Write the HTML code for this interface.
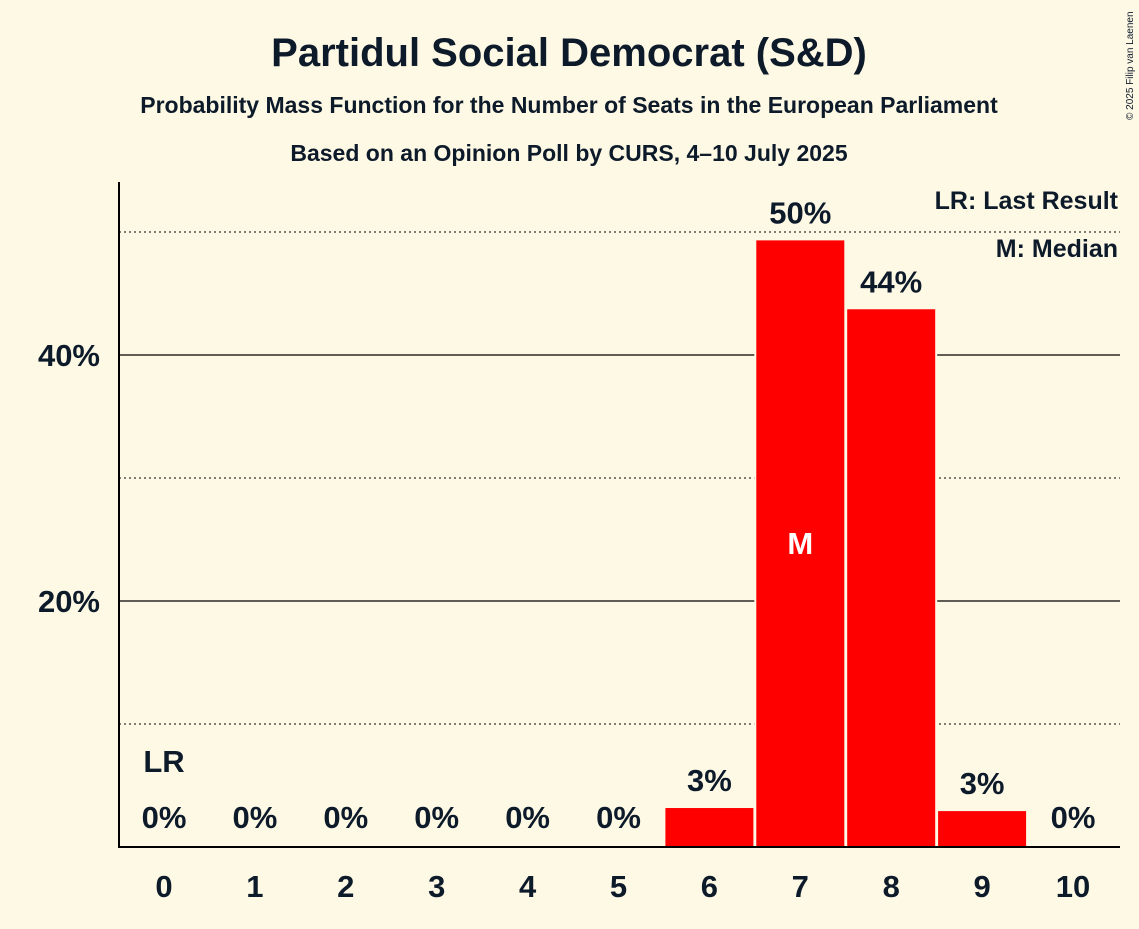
<!DOCTYPE html>
<html><head><meta charset="utf-8"><style>
body{margin:0;background:#fef9e5;font-family:"Liberation Sans",sans-serif;}
svg text{font-family:"Liberation Sans",sans-serif;fill:#0d1a2a;}
</style></head><body>
<svg id="c" width="1139" height="924">
<rect width="1139" height="924" fill="#fef9e5"/>
<text x="569" y="66" font-size="40" font-weight="bold" text-anchor="middle">Partidul Social Democrat (S&amp;D)</text>
<text x="569" y="113" font-size="23" font-weight="bold" text-anchor="middle">Probability Mass Function for the Number of Seats in the European Parliament</text>
<text x="569" y="161" font-size="23" font-weight="bold" text-anchor="middle">Based on an Opinion Poll by CURS, 4–10 July 2025</text>
<text x="1133" y="120" font-size="10" transform="rotate(-90 1133 120)" text-anchor="start">© 2025 Filip van Laenen</text>
<g id="grid"></g><g id="bars"></g><g id="labels"></g>
<line x1="119" y1="182" x2="119" y2="848" stroke="#000" stroke-width="2"/>
<line x1="118" y1="847" x2="1120" y2="847" stroke="#000" stroke-width="2"/>
<text x="1118" y="209" font-size="25" font-weight="bold" text-anchor="end">LR: Last Result</text>
<text x="1118" y="257" font-size="25" font-weight="bold" text-anchor="end">M: Median</text>
</svg>
<script>
const seats=[0,1,2,3,4,5,6,7,8,9,10];
const probs=[0,0,0,0,0,0,3.25,49.4,43.8,3.0,0];
const valueLabels=["0%","0%","0%","0%","0%","0%","3%","50%","44%","3%","0%"];
const yTicks=[20,40];
const yDotted=[10,30,50];
const medianSeat=7, lastResultSeat=0;
const NS="http://www.w3.org/2000/svg";
const y=v=>847-v*12.3;
const x=s=>164+s*90.9;
function mk(tag,attrs,parent,txt){const e=document.createElementNS(NS,tag);for(const k in attrs)e.setAttribute(k,attrs[k]);if(txt!==undefined)e.textContent=txt;document.getElementById(parent).appendChild(e);return e;}
yTicks.forEach(t=>{
 const l=mk('line',{x1:119,x2:1120,y1:y(t),y2:y(t),stroke:'#000','stroke-width':1.3},'grid');
 
 
 const tx=mk('text',{x:100,y:y(t)+11,'font-size':31,'font-weight':'bold','text-anchor':'end'},'grid',t+'%');
 
 
});
yDotted.forEach(t=>{
 const l=mk('line',{x1:119,x2:1120,y1:y(t),y2:y(t),stroke:'#000','stroke-width':1,'stroke-dasharray':'2,3'},'grid');
 
 
});
seats.forEach((s,i)=>{
 const p=probs[i];
 if(p>0){
  const r=mk('rect',{x:x(s)-45,y:y(p),width:90,height:847-y(p),fill:'#ff0000',stroke:'#fef9e5','stroke-width':2},'bars');
  
  
 }
 const ly=p>0?y(p)-16:828;
 const t=mk('text',{x:x(s),y:p>40?ly+0:ly,'font-size':31,'font-weight':'bold','text-anchor':'middle'},'labels',valueLabels[i]);
 
 
 const xt=mk('text',{x:x(s),y:897,'font-size':31,'font-weight':'bold','text-anchor':'middle'},'labels',String(s));
 
 
});
const m=mk('text',{x:x(medianSeat),y:y(probs[medianSeat]/2)+11,'font-size':31,'font-weight':'bold','text-anchor':'middle',style:'fill:#fff'},'labels','M');


const lr=mk('text',{x:x(lastResultSeat),y:772,'font-size':31,'font-weight':'bold','text-anchor':'middle'},'labels','LR');


</script>
</body></html>
